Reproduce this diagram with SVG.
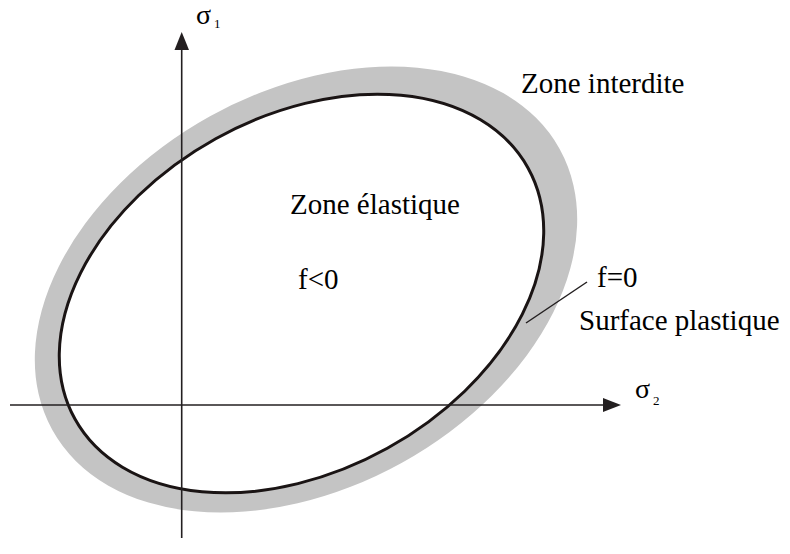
<svg xmlns="http://www.w3.org/2000/svg" width="790" height="554" viewBox="0 0 790 554" font-family="Liberation Serif">
<style>
.ax{stroke:#231f20;stroke-width:1.6;fill:none}
text{font-family:'Liberation Serif',serif;fill:#000}
</style>
<g id="zone-interdite-band">
<ellipse cx="306" cy="289.5" rx="290" ry="198" transform="rotate(-29 306 289.5)" fill="#c4c4c4"/>
</g>
<g id="surface-plastique">
<ellipse cx="301.5" cy="293.5" rx="259" ry="177" transform="rotate(-29 301.5 293.5)" fill="#fff" stroke="#1a1414" stroke-width="3"/>
</g>
<g id="connectors">
<line class="ax" x1="10" y1="405" x2="606" y2="405"/>
<polygon points="621,405 603,398 603,412" fill="#231f20"/>
<line class="ax" x1="181.7" y1="538" x2="181.7" y2="48"/>
<polygon points="181.7,32 174.5,50 189,50" fill="#231f20"/>
<line x1="587" y1="282" x2="526" y2="323" stroke="#231f20" stroke-width="1.5"/>
</g>
<g id="label-sigma1"><text x="196" y="24" font-size="28">σ</text><text x="214" y="28" font-size="13">1</text></g>
<g id="label-sigma2"><text x="635" y="398" font-size="28">σ</text><text x="653" y="405" font-size="13">2</text></g>
<g id="label-zone-interdite"><text x="521" y="93" font-size="29">Zone interdite</text></g>
<g id="label-zone-elastique"><text x="290" y="214" font-size="29">Zone élastique</text></g>
<g id="label-f-neg"><text x="298" y="289" font-size="29">f&lt;0</text></g>
<g id="label-f-zero"><text x="597" y="287" font-size="29">f=0</text></g>
<g id="label-surface"><text x="579" y="330" font-size="29">Surface plastique</text></g>
</svg>
